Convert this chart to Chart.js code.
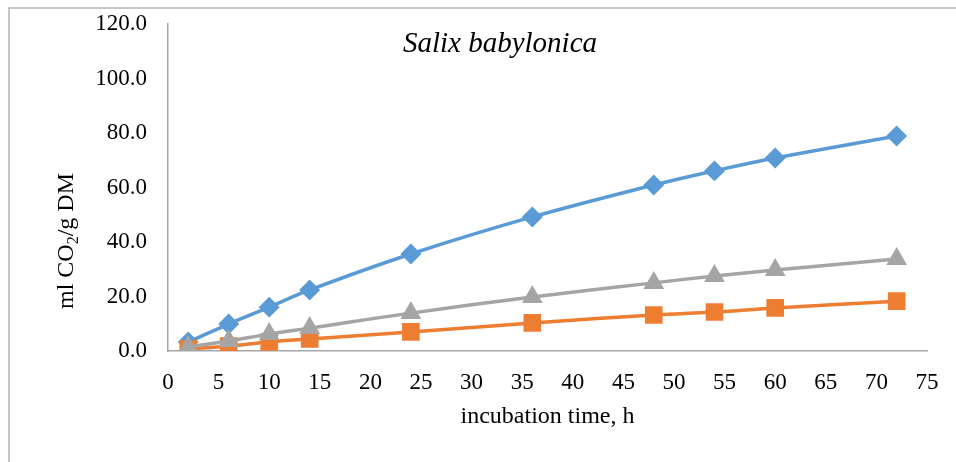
<!DOCTYPE html>
<html>
<head>
<meta charset="utf-8">
<script src="https://cdn.jsdelivr.net/npm/chart.js@4/dist/chart.umd.min.js"></script>
<style>
html,body{margin:0;padding:0;background:#fff;}
#wrap{width:956px;height:462px;position:relative;}
</style>
</head>
<body>
<div id="wrap"><canvas id="c" width="956" height="462"></canvas></div>
<script>
const hours = [2, 6, 10, 14, 24, 36, 48, 54, 60, 72];
const seriesBlue = [3.3, 9.9, 16.1, 22.4, 35.6, 49.2, 60.9, 66.1, 70.8, 78.9];
const seriesOrange = [0.7, 1.8, 3.3, 4.4, 7.0, 10.3, 13.2, 14.3, 15.8, 18.3];
const seriesGray = [1.5, 3.7, 6.2, 8.4, 13.9, 19.8, 25.0, 27.5, 29.7, 33.8];
const chartTitle = 'Salix babylonica';
const xTitle = 'incubation time, h';
const yTitleMain = 'ml CO';
const yTitleSub = '2';
const yTitleRest = '/g DM';

const toXY = (vals) => hours.map((h, i) => ({x: h, y: vals[i]}));
const serif = "'Liberation Serif', 'Times New Roman', serif";

const decor = {
  id: 'decor',
  beforeDraw(chart) {
    const ctx = chart.ctx;
    ctx.save();
    ctx.fillStyle = '#fff';
    ctx.fillRect(0, 0, chart.width, chart.height);
    ctx.strokeStyle = '#b4b4b4';
    ctx.lineWidth = 1.5;
    ctx.beginPath();
    ctx.moveTo(9, chart.height + 5);
    ctx.lineTo(9, 8);
    ctx.lineTo(chart.width + 5, 8);
    ctx.stroke();
    ctx.restore();
  },
  afterDraw(chart) {
    const ctx = chart.ctx;
    ctx.save();
    ctx.fillStyle = '#000';
    ctx.font = "italic 29px " + serif;
    ctx.textAlign = 'center';
    ctx.textBaseline = 'alphabetic';
    ctx.fillText(chartTitle, 500, 52);
    ctx.restore();

    // y axis title with subscript
    ctx.save();
    const big = "24px " + serif, small = "16px " + serif;
    ctx.font = big; const w1 = ctx.measureText(yTitleMain).width; const w3 = ctx.measureText(yTitleRest).width;
    ctx.font = small; const w2 = ctx.measureText(yTitleSub).width;
    const total = w1 + w2 + w3;
    ctx.translate(73, 241);
    ctx.rotate(-Math.PI / 2);
    ctx.fillStyle = '#000';
    ctx.textAlign = 'left';
    ctx.textBaseline = 'alphabetic';
    let x0 = -total / 2;
    ctx.font = big; ctx.fillText(yTitleMain, x0, 0);
    ctx.font = small; ctx.fillText(yTitleSub, x0 + w1, 5);
    ctx.font = big; ctx.fillText(yTitleRest, x0 + w1 + w2, 0);
    ctx.restore();
  }
};

new Chart(document.getElementById('c'), {
  type: 'line',
  data: {
    datasets: [
      {
        label: 'series 1',
        data: toXY(seriesBlue),
        borderColor: '#5B9BD5',
        backgroundColor: '#5B9BD5',
        pointStyle: 'rectRot',
        pointRadius: 8,
        borderWidth: 3.5,
        tension: 0.4,
        order: 3
      },
      {
        label: 'series 2',
        data: toXY(seriesOrange),
        borderColor: '#ED7D31',
        backgroundColor: '#ED7D31',
        pointStyle: 'rect',
        pointRadius: 10,
        borderWidth: 3.5,
        tension: 0.4,
        order: 2
      },
      {
        label: 'series 3',
        data: toXY(seriesGray),
        borderColor: '#A5A5A5',
        backgroundColor: '#A5A5A5',
        pointStyle: 'triangle',
        pointRadius: 8.5,
        borderWidth: 3.5,
        tension: 0.4,
        order: 1
      }
    ]
  },
  options: {
    responsive: false,
    animation: false,
    layout: { padding: { left: 9, top: 24, right: 29, bottom: 0 } },
    plugins: {
      legend: { display: false },
      tooltip: { enabled: false },
      title: { display: false }
    },
    elements: { point: { borderWidth: 0 } },
    scales: {
      x: {
        type: 'linear',
        min: 0, max: 75,
        grid: { display: false, drawTicks: false },
        border: { display: true, color: '#a6a6a6', width: 1.5 },
        ticks: { stepSize: 5, color: '#000', font: { family: serif, size: 23 }, padding: 18, maxRotation: 0 },
        title: { display: true, text: xTitle, color: '#000', font: { family: serif, size: 24 }, padding: { top: 0, bottom: 31 } },
        afterFit(scale) { scale.height = 462 - 351; scale.paddingLeft = 0; scale.paddingRight = 0; }
      },
      y: {
        min: 0, max: 120,
        grid: { display: false, drawTicks: false },
        border: { display: true, color: '#a6a6a6', width: 1.5 },
        ticks: { stepSize: 20, color: '#000', font: { family: serif, size: 23 }, padding: 21,
          callback: (v) => Number(v).toFixed(1) },
        title: { display: false },
        afterFit(scale) { scale.width = 168 - 9; scale.paddingTop = 0; scale.paddingBottom = 0; }
      }
    }
  },
  plugins: [decor]
});
</script>
</body>
</html>
